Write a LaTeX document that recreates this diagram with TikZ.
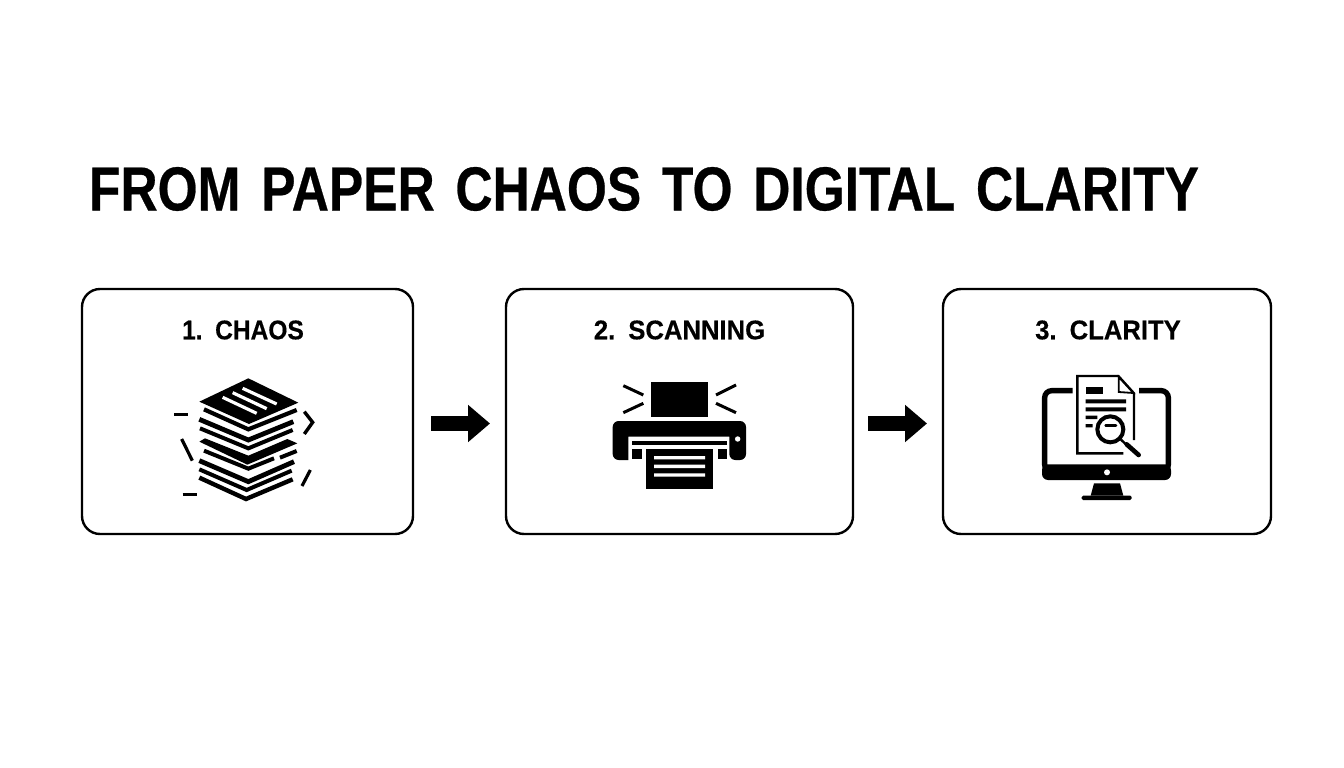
\documentclass[tikz,border=0pt]{standalone}
\usepackage{fontspec}
\setmainfont{Liberation Sans}
\newfontfamily\headfont[WordSpace=1.45,FakeBold=0.5]{Liberation Sans Bold}
\newfontfamily\stepfont[WordSpace=1.5,FakeBold=0.4]{Liberation Sans Bold}
\usetikzlibrary{arrows.meta}
\tikzset{
  stepbox/.style={draw=black,line width=2.4pt,rounded corners=18pt,fill=white,inner sep=0pt,anchor=north west,outer sep=0pt},
  steplabel/.style={font=\stepfont\fontsize{27}{27}\selectfont,text=black,inner sep=0pt,anchor=center},
  blockarrow/.style={draw=black,line width=15pt,-{Triangle[length=22pt,width=36pt]}},
  zoomed/.style={x=.33333pt,y=-.33333pt},
  inkline/.style={draw=black,line width=#1,line cap=butt,line join=miter,fill=none},
  inkline/.default=3pt
}
\begin{document}
\begin{tikzpicture}[x=1pt,y=-1pt]
\useasboundingbox[fill=white] (0,0) rectangle (1344,768);
\node[inner sep=0pt,anchor=center,xscale=.83,font=\headfont\fontsize{62}{62}\selectfont] (title) at (644,189) {FROM PAPER CHAOS TO DIGITAL CLARITY};

\node[stepbox,minimum width=331pt,minimum height=245pt] (chaos) at (82,289) {};
\node[stepbox,minimum width=347pt,minimum height=245pt] (scan) at (506,289) {};
\node[stepbox,minimum width=328pt,minimum height=245pt] (clarity) at (943,289) {};
\node[steplabel,xscale=.91] (chaoslabel) at (243,330) {1. CHAOS};
\node[steplabel,xscale=.95] (scanlabel) at (679.5,330) {2. SCANNING};
\node[steplabel,xscale=.95] (claritylabel) at (1108,330) {3. CLARITY};

\draw[blockarrow,shorten <=18pt,shorten >=16pt] ([yshift=-12pt]chaos.east) -- ([yshift=-12pt]scan.west);
\draw[blockarrow,shorten <=15pt,shorten >=16pt] ([yshift=-12pt]scan.east) -- ([yshift=-12pt]clarity.west);

% paper stack
\begin{scope}[shift={(150,360)},zoomed]
\fill (148,125) -- (295,55) -- (445,128) -- (297,192) -- cycle;
\draw[white,line width=3.2pt] (278,85) -- (380,132) (248,98) -- (350,146) (218,112) -- (320,160);
\draw[inkline=4.2pt] (162,148) -- (295,208) -- (440,150);
\draw[inkline=4.8pt] (148,178) -- (295,240) -- (430,185);
\draw[inkline=4pt] (150,205) -- (295,265) -- (428,210);
\fill (148,245) -- (165,235) -- (295,287) -- (412,237) -- (442,250) -- (292,314) -- cycle;
\draw[inkline=4pt] (162,272) -- (295,326) -- (372,295);
\draw[inkline=4pt] (390,293) -- (440,273);
\draw[inkline=4.8pt] (148,302) -- (295,365) -- (432,305);
\draw[inkline=4pt] (148,328) -- (290,390) -- (425,332);
\draw[inkline=4.4pt] (148,353) -- (288,417) -- (428,358);
\draw[inkline=3.6pt] (72,163) -- (115,163);
\draw[inkline=3.2pt] (95,237) -- (127,302);
\draw[inkline=3.6pt] (98,404) -- (142,404);
\draw[inkline=3.4pt] (463,155) -- (488,187) -- (463,222);
\draw[inkline=3.2pt] (481,330) -- (456,378);
\end{scope}

% scanner
\begin{scope}[shift={(590,365)},zoomed]
\fill (182,52) rectangle (355,157);
\draw[inkline=3pt] (100,62) -- (160,90) (100,143) -- (160,115) (378,90) -- (438,60) (378,115) -- (438,143);
\fill[rounded corners=6pt] (68,168) -- (468,168) -- (468,285) -- (418,285) [sharp corners] -- (418,215) -- (115,215) -- (115,285) [rounded corners=6pt] -- (68,285) -- cycle;
\fill[white] (443,222) circle[radius=2.7pt];
\fill (127,227) rectangle (410,240);
\fill (127,252) rectangle (155,283);
\fill (383,252) rectangle (410,283);
\fill (168,252) rectangle (370,373);
\fill[white] (192,273) rectangle (345,283) (192,299) rectangle (345,309) (192,325) rectangle (345,335);
\end{scope}

% monitor
\begin{scope}[shift={(1020,365)},zoomed]
\draw[line width=5.4pt,rounded corners=7pt] (158,77) -- (74,77) -- (74,320) -- (445,320) -- (445,77) -- (357,77);
\fill[rounded corners=6pt] (66,298) -- (453,298) -- (453,345) -- (66,345) -- cycle;
\fill[white] (261,322) circle[radius=3pt];
\fill (222,355) -- (300,355) -- (310,392) -- (212,392) -- cycle;
\fill[rounded corners=1.5pt] (185,392) rectangle (335,405);
\draw[fill=white,line width=2.4pt,line join=miter] (342,225) -- (342,85) -- (295,33) -- (172,33) -- (172,265) -- (310,265);
\draw[line width=1.8pt,fill=white] (296,36) -- (296,81) -- (340,84) -- cycle;
\fill (197,65) rectangle (250,88);
\fill (197,103) rectangle (318,115) (197,127) rectangle (318,139) (197,152) rectangle (232,162) (197,177) rectangle (218,187);
\draw[line width=4pt,fill=white] (271,193) circle[radius=13pt];
\draw[line width=2.4pt] (303,224) -- (322,242);
\draw[line width=4.6pt,line cap=round] (320,238) -- (356,270);
\draw[line width=2.8pt,line cap=round] (257,181) -- (288,181);
\end{scope}
\end{tikzpicture}
\end{document}
